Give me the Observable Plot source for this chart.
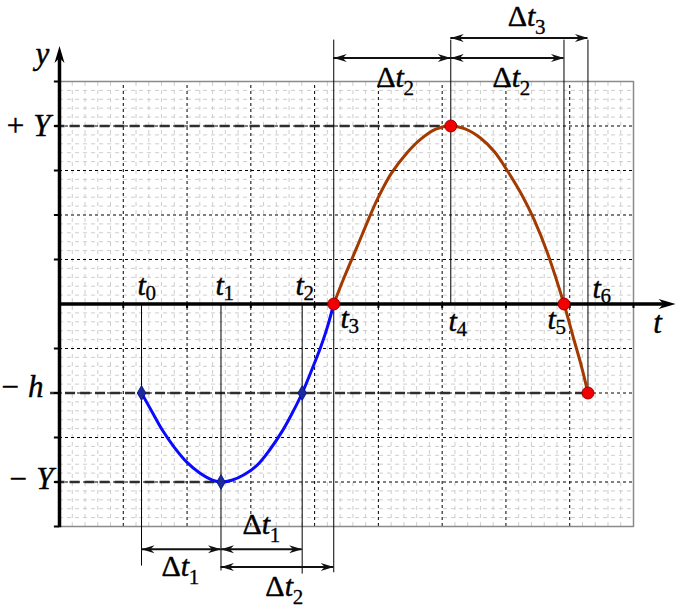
<!DOCTYPE html>
<html>
<head>
<meta charset="utf-8">
<script src="https://cdn.jsdelivr.net/npm/d3@7"></script>
<script src="https://cdn.jsdelivr.net/npm/@observablehq/plot@0.6"></script>
<style>
  html, body { margin: 0; padding: 0; background: #fff; }
  #chart svg { display: block; }
</style>
</head>
<body>
<div id="chart"></div>
<script>
// ---------- data (grid units: 1 major cell = 1) ----------
const timeNames  = ["0", "1", "2", "3", "4", "5", "6"];           // subscripts of t
const timeValues = [1.286, 2.532, 3.805, 4.30, 6.135, 7.91, 8.286];

const levelNames  = ["+ Y", "− h", "− Y"];
const levelValues = [4, -2, -4];
const levelEndTime = [4, 6, 1];   // index into timeValues where each dashed level line stops

// blue branch (t0 -> t3)
const blueT = [1.286, 1.45, 1.62, 1.80, 2.00, 2.20, 2.40, 2.532, 2.70, 2.90, 3.10, 3.30, 3.50, 3.65, 3.805, 3.95, 4.10, 4.20, 4.30];
const blueY = [-2.00, -2.42, -2.85, -3.22, -3.56, -3.80, -3.96, -4.00, -3.96, -3.83, -3.62, -3.27, -2.84, -2.45, -2.00, -1.50, -0.95, -0.52, 0.00];

// brown branch (t3 -> t6)
const brownT = [4.30, 4.45, 4.67, 4.85, 5.00, 5.20, 5.45, 5.66, 5.90, 6.135, 6.35, 6.60, 6.82, 7.02, 7.25, 7.44, 7.65, 7.91, 8.07, 8.18, 8.286];
const brownY = [0.00, 0.55, 1.30, 1.92, 2.40, 2.93, 3.40, 3.70, 3.93, 4.00, 3.94, 3.73, 3.42, 3.00, 2.45, 1.90, 1.15, 0.00, -0.82, -1.38, -2.00];

// interval annotations: from / to index of timeValues, label subscript
const spanSub  = ["1", "1", "2", "2", "2", "3"];
const spanFrom = [0, 1, 1, 3, 4, 4];
const spanTo   = [1, 2, 3, 4, 5, 6];

// ---------- layout (positions of annotations, in grid units) ----------
const spanArrowY = [-5.51, -5.51, -5.91, 5.53, 5.53, 5.98];
const spanLabelX = [1.90, 3.17, 3.53, 5.27, 7.09, 7.33];
const spanLabelY = [-6.11, -5.17, -6.57, 4.88, 4.88, 6.25];

const tLabelX = [1.223, 2.446, 3.70, 4.406, 6.10, 7.65, 8.357];
const tLabelY = [0.20, 0.20, 0.20, -0.55, -0.60, -0.57, 0.14];

const levelLabelX = [-0.14, -0.25, -0.094];
const levelLabelY = [3.77, -2.08, -4.16];
const levelStartX = [-0.07, -0.14, -0.07];

// vertical guide lines: time index, top, bottom
const guideIdx = [0, 1, 2, 3, 4, 5, 6];
const guideTop = [0, 0, 0, 5.93, 5.93, 5.93, 5.93];
const guideBot = [-5.89, -6.0, -6.07, -6.04, 0, 0, -2];

// ---------- build tables ----------
const blue = blueT.map((t, i) => ({t, y: blueY[i]}));
const brown = brownT.map((t, i) => ({t, y: brownY[i]}));
const levels = levelValues.map((v, i) => ({
  name: levelNames[i], y: v, x1: levelStartX[i], x2: timeValues[levelEndTime[i]],
  lx: levelLabelX[i], ly: levelLabelY[i]
}));
const times = timeValues.map((t, i) => ({t, sub: timeNames[i], lx: tLabelX[i], ly: tLabelY[i]}));
const guides = guideIdx.map((k, i) => ({x: timeValues[k], y1: guideTop[i], y2: guideBot[i]}));
const spans = spanSub.map((s, i) => ({
  sub: s, x1: timeValues[spanFrom[i]], x2: timeValues[spanTo[i]], y: spanArrowY[i],
  lx: spanLabelX[i], ly: spanLabelY[i]
}));
const heads = spans.flatMap(d => [{x: d.x1, y: d.y, r: 180}, {x: d.x2, y: d.y, r: 0}]);

const minorX = d3.range(1, 45).filter(i => i % 5 !== 0).map(i => i / 5);
const minorY = d3.range(-24, 25).filter(i => i % 5 !== 0).map(i => i / 5);
const majorX = [1, 2, 3, 4, 5, 6, 7, 8];
const majorY = [-4, -3, -2, -1, 1, 2, 3, 4];

const serif = "'Liberation Serif', 'Times New Roman', serif";
const ink = {fill: "#000", stroke: "#000", strokeWidth: 0.45, fontFamily: serif};

const stealth = {draw(ctx) { ctx.moveTo(0, 0); ctx.lineTo(-13, -4); ctx.lineTo(-9, 0); ctx.lineTo(-13, 4); ctx.closePath(); }};
const stealthBig = {draw(ctx) { ctx.moveTo(0, 0); ctx.lineTo(-17, -5); ctx.lineTo(-12, 0); ctx.lineTo(-17, 5); ctx.closePath(); }};

const chart = Plot.plot({
  width: 681,
  height: 614,
  margin: 0,
  x: {domain: [0, 9], range: [59, 633], axis: null},
  y: {domain: [-5, 5], range: [526, 81], axis: null},
  style: {background: "#fff", overflow: "visible"},
  marks: [
    // minor grid
    Plot.ruleX(minorX, {y1: -5, y2: 5, stroke: "#cdcdcd", strokeWidth: 1, strokeDasharray: "4,4"}),
    Plot.ruleY(minorY, {x1: 0, x2: 9, stroke: "#cdcdcd", strokeWidth: 1, strokeDasharray: "4,4"}),
    // major grid
    Plot.ruleX(majorX, {y1: -5, y2: 5, stroke: "#000", strokeWidth: 1, strokeDasharray: "3,3"}),
    Plot.ruleY(majorY, {x1: 0, x2: 9, stroke: "#000", strokeWidth: 1, strokeDasharray: "3,3"}),
    // border
    Plot.line([[0, 5], [9, 5], [9, -5], [0, -5]], {stroke: "#8a8a8a", strokeWidth: 1.5}),
    // level dashed lines
    Plot.ruleY(levels, {y: "y", x1: "x1", x2: "x2", stroke: "#2e2e2e", strokeWidth: 2.5, strokeDasharray: "10,5"}),
    // vertical guides
    Plot.ruleX(guides, {x: "x", y1: "y1", y2: "y2", stroke: "#000", strokeWidth: 1}),
    // axes
    Plot.ruleY([0], {x1: 0, x2: 9.5, stroke: "#000", strokeWidth: 3.5}),
    Plot.ruleX([0], {y1: -5.03, y2: 5.6, stroke: "#000", strokeWidth: 3.5}),
    Plot.dot([{x: 9.66, y: 0, r: 0}], {x: "x", y: "y", rotate: "r", symbol: stealthBig, fill: "#000", stroke: "none"}),
    Plot.dot([{x: 0, y: 5.8, r: -90}], {x: "x", y: "y", rotate: "r", symbol: stealthBig, fill: "#000", stroke: "none"}),
    Plot.ruleX([1, 2, 3, 4, 5, 6, 7, 8, 9], {y1: 0, y2: -0.1, stroke: "#000", strokeWidth: 2}),
    Plot.ruleY([-5, -4, -3, -2, -1, 1, 2, 3, 4, 5], {x1: -0.08, x2: 0, stroke: "#000", strokeWidth: 2}),
    // curves
    Plot.line(blue, {x: "t", y: "y", stroke: "#0a0aff", strokeWidth: 3, curve: "catmull-rom"}),
    Plot.line(brown, {x: "t", y: "y", stroke: "#a33a00", strokeWidth: 3, curve: "catmull-rom"}),
    // markers
    Plot.dot([0, 1, 2].map(i => ({t: timeValues[i], y: [-2, -4, -2][i]})), {x: "t", y: "y", symbol: "diamond", r: 4.5, fill: "#1c2a9c", stroke: "#0a0a80", strokeWidth: 0.8}),
    Plot.dot([3, 4, 5, 6].map(i => ({t: timeValues[i], y: [0, 4, 0, -2][i - 3]})), {x: "t", y: "y", r: 6, fill: "#f00000", stroke: "#a00000", strokeWidth: 1}),
    // interval arrows
    Plot.ruleY(spans, {y: "y", x1: "x1", x2: "x2", stroke: "#111", strokeWidth: 2}),
    Plot.dot(heads, {x: "x", y: "y", rotate: "r", symbol: stealth, fill: "#111", stroke: "none"}),
    // interval labels
    Plot.text(spans, {x: "lx", y: "ly", text: () => "Δ", textAnchor: "end", lineAnchor: "bottom", fontSize: 30, ...ink}),
    Plot.text(spans, {x: "lx", y: "ly", text: () => "t", textAnchor: "start", lineAnchor: "bottom", fontStyle: "italic", fontSize: 30, ...ink}),
    Plot.text(spans, {x: "lx", y: "ly", text: "sub", textAnchor: "start", lineAnchor: "bottom", dx: 8, dy: 8, fontSize: 21, ...ink, strokeWidth: 0.3}),
    // time labels
    Plot.text(times, {x: "lx", y: "ly", text: () => "t", textAnchor: "start", lineAnchor: "bottom", fontStyle: "italic", fontSize: 30, ...ink}),
    Plot.text(times, {x: "lx", y: "ly", text: "sub", textAnchor: "start", lineAnchor: "bottom", dx: 8, dy: 5, fontSize: 21, ...ink, strokeWidth: 0.3}),
    // level labels
    Plot.text(levels, {x: "lx", y: "ly", text: "name", textAnchor: "end", lineAnchor: "bottom", fontStyle: "italic", fontSize: 31, ...ink}),
    // axis labels
    Plot.text([{x: -0.376, y: 5.39, s: "y"}, {x: 9.31, y: -0.65, s: "t"}], {x: "x", y: "y", text: "s", textAnchor: "start", lineAnchor: "bottom", fontStyle: "italic", fontSize: 31, ...ink})
  ]
});
document.getElementById("chart").appendChild(chart);
</script>
</body>
</html>
